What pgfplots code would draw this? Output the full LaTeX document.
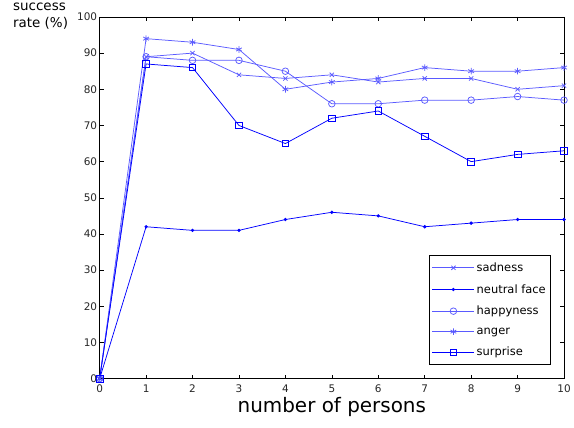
\documentclass[border=0pt]{standalone}
\usepackage{pgfplots}
\pgfplotsset{compat=1.18}
\usepackage{fontspec}
\setmainfont{DejaVu Sans}
\definecolor{lb}{RGB}{90,90,255}
\definecolor{db}{RGB}{0,0,255}
\begin{document}
\begin{tikzpicture}
\begin{axis}[
  scale only axis,
  width=466pt, height=363pt,
  xmin=0, xmax=10, ymin=0, ymax=100,
  xtick={0,...,10}, ytick={0,10,...,100},
  tick align=inside,
  major tick length=4pt,
  tick style={black, line width=0.5pt},
  axis line style={black, line width=0.6pt},
  /pgf/number format/assume math mode=true,
  ticklabel style={font=\fontsize{10.5}{12}\selectfont, text=black!85},
  xticklabel style={yshift=-3pt},
  yticklabel style={xshift=1pt},
  xlabel={number of persons},
  xlabel style={font=\fontsize{20}{22}\selectfont, yshift=3pt},
  legend style={at={(rel axis cs:0.972,0.039)}, anchor=south east,
    font=\fontsize{11.5}{13}\selectfont, draw=black, line width=0.6pt,
    row sep=7.5pt, inner xsep=3pt, inner ysep=5pt},
  legend cell align=left,
  legend image code/.code={\draw[mark repeat=2,mark phase=2] plot coordinates {(0pt,0pt) (21pt,0pt) (42pt,0pt)};},
  every axis plot/.append style={line width=0.75pt},
  clip=false,
]
\addplot[lb, mark=x, mark size=3pt] coordinates {(0,0)(1,89)(2,90)(3,84)(4,83)(5,84)(6,82)(7,83)(8,83)(9,80)(10,81)};
\addlegendentry{sadness}
\addplot[db, mark=*, mark size=1.3pt] coordinates {(0,0)(1,42)(2,41)(3,41)(4,44)(5,46)(6,45)(7,42)(8,43)(9,44)(10,44)};
\addlegendentry{neutral face}
\addplot[lb, mark=o, mark size=3.3pt] coordinates {(0,0)(1,89)(2,88)(3,88)(4,85)(5,76)(6,76)(7,77)(8,77)(9,78)(10,77)};
\addlegendentry{happyness}
\addplot[lb, mark=asterisk, mark size=3.3pt] coordinates {(0,0)(1,94)(2,93)(3,91)(4,80)(5,82)(6,83)(7,86)(8,85)(9,85)(10,86)};
\addlegendentry{anger}
\addplot[db, mark=square, mark size=3.3pt] coordinates {(0,0)(1,87)(2,86)(3,70)(4,65)(5,72)(6,74)(7,67)(8,60)(9,62)(10,63)};
\addlegendentry{surprise}
\node[anchor=north west, align=left, font=\fontsize{13.5}{17}\selectfont, inner sep=0pt] at (rel axis cs:0,1) [xshift=-87pt, yshift=14pt] {success\\rate (\%)};
\end{axis}
\useasboundingbox (-100pt,-49pt) rectangle (474pt,380pt);
\end{tikzpicture}
\end{document}
